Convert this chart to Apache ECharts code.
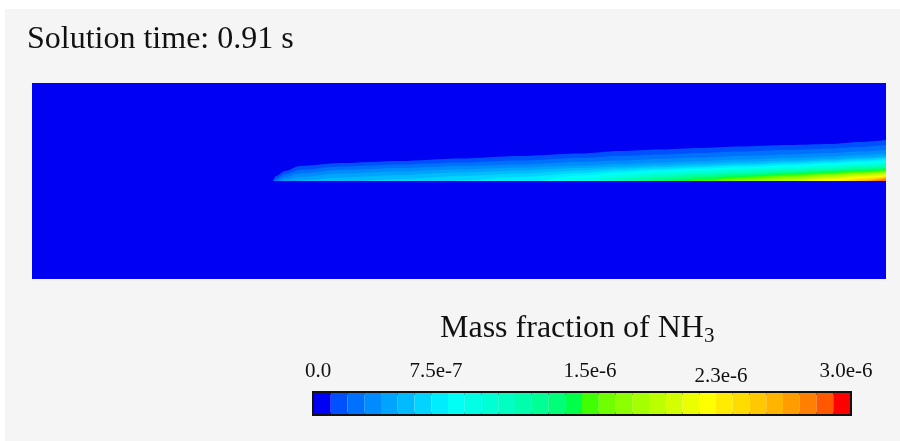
<!DOCTYPE html>
<html>
<head>
<meta charset="utf-8">
<title>Mass fraction of NH3</title>
<script src="https://cdn.jsdelivr.net/npm/echarts@6/dist/echarts.min.js"></script>
<style>
  html, body { margin: 0; padding: 0; background: #fff; }
  #chart { width: 900px; height: 441px; }
</style>
</head>
<body>
<div id="chart"></div>
<script>
// 32 contour bands, 0 .. 3.0e-6
var binColors = ['#0000f2', '#0050ff', '#0070ff', '#008cff', '#00a4ff', '#00bcff', '#00d4ff', '#00ecff',
                 '#00fff4', '#00ffe4', '#00ffd4', '#00ffc0', '#00ffac', '#00ff94', '#00ff78', '#00ff48',
                 '#40ff00', '#70ff00', '#8cff00', '#a4ff00', '#bcff00', '#d4ff00', '#ecff00', '#ffff00',
                 '#ffec00', '#ffdc00', '#ffc800', '#ffb400', '#ff9c00', '#ff8000', '#ff5800', '#ff0000'];

// colorbar ticks (units of 1e-7)
var tickValues = [0, 7.5, 15, 22.5, 30];
var tickLabels = ['0.0', '7.5e-7', '1.5e-6', '2.3e-6', '3.0e-6'];

// stations along the axis where the band edges were read
var stationX = [241, 244, 253, 268, 308, 368, 428, 488, 548, 588, 628, 668, 708, 758, 798, 828, 854];

// where each band (level 2 .. 32) first appears on the centre line
var levelStart = [241, 242, 246, 250, 264, 328, 423, 508, 536, 563, 575, 586, 600, 616, 633, 656,
                  680, 698, 720, 740, 763, 773, 784, 803, 813, 823, 830, 836, 841, 845, 848];

// height of each band edge above the centre line, aligned to the last stations
var levelHeights = [
    [0, 5, 10, 15, 18, 20, 22.5, 25, 27.5, 30, 31.5, 33, 34.5, 36, 37, 39, 41],
    [2, 7, 11, 14.5, 16.5, 18.5, 20.5, 23, 25, 26.5, 28, 29.5, 31, 32.5, 34, 36],
    [4, 7.5, 11, 13, 15, 16.5, 19, 20.5, 22, 23.5, 25, 26.5, 28, 29.5, 31],
    [1, 4, 7.5, 9.5, 11.5, 13.5, 15.5, 17, 18.5, 20, 21.5, 23, 24.5, 26, 27.5],
    [0.5, 3.5, 6, 8.5, 10.5, 13, 14.5, 16, 17.5, 19, 20.5, 22, 23.5, 25],
    [2, 5, 7.5, 10.5, 12.5, 14, 15.5, 17, 18.8, 20.5, 22, 23.5],
    [0.5, 4, 8, 10.5, 12.2, 13.8, 15.4, 17.2, 19, 20.5, 22],
    [5.5, 8.5, 10.5, 12.2, 13.8, 15.6, 17.5, 19, 20.5],
    [2, 6.5, 9, 10.7, 12.4, 14.2, 16, 17.5, 19],
    [4.5, 7.5, 9.3, 11, 12.8, 14.5, 16, 17.5],
    [2.5, 6, 8, 9.8, 11.7, 13.5, 15, 16.3],
    [0.8, 4.5, 6.8, 8.7, 10.6, 12.3, 13.8, 15],
    [3, 5.6, 7.6, 9.6, 11.3, 12.8, 14],
    [1.5, 4.3, 6.5, 8.6, 10.3, 11.8, 13],
    [2.8, 5.3, 7.6, 9.3, 10.8, 12],
    [1.2, 4, 6.4, 8.3, 9.8, 11],
    [2.6, 5.2, 7.3, 8.8, 10],
    [1.2, 4, 6.4, 8, 9.2],
    [2.8, 5.5, 7.2, 8.4],
    [1.4, 4.5, 6.4, 7.7],
    [3.5, 5.6, 7],
    [2.5, 4.8, 6.3],
    [1.2, 4, 5.6],
    [3, 5],
    [2, 4.4],
    [1, 3.8],
    [3.2],
    [2.7],
    [2.2],
    [1.7],
    [1.2]
];

var serif = 'Liberation Serif, Times New Roman, serif';
var chart = echarts.init(document.getElementById('chart'));

// one filled band per contour level, later levels painted on top
var plumeSeries = levelHeights.map(function (tail, i) {
    var off = stationX.length - tail.length;
    var pts = [[levelStart[i], 0]];
    tail.forEach(function (h, j) {
        var x = stationX[off + j];
        if (x > levelStart[i]) pts.push([x, h]);
    });
    return {
        type: 'line',
        xAxisIndex: 0,
        yAxisIndex: 0,
        data: pts,
        smooth: 0.3,
        smoothMonotone: 'x',
        symbol: 'none',
        silent: true,
        z: 3 + i,
        lineStyle: { width: 0, opacity: 0 },
        itemStyle: { color: binColors[i + 1] },
        areaStyle: { color: binColors[i + 1], opacity: 1 }
    };
});

var option = {
    animation: false,
    graphic: [{
        type: 'rect',
        z: -10,
        silent: true,
        shape: { x: 5, y: 9, width: 895, height: 432 },
        style: { fill: '#f5f5f5' }
    }],
    title: [
        {
            text: 'Solution time: 0.91 s',
            left: 27,
            top: 24,
            padding: 0,
            textStyle: { fontFamily: serif, fontSize: 32, fontWeight: 'normal', color: '#111' }
        },
        {
            text: 'Mass fraction of NH{sub|3}',
            left: 440,
            top: 311,
            padding: 0,
            textStyle: {
                fontFamily: serif, fontSize: 32, fontWeight: 'normal', color: '#111', lineHeight: 36,
                rich: {
                    sub: { fontFamily: serif, fontSize: 21, lineHeight: 16, verticalAlign: 'bottom', color: '#111' }
                }
            }
        }
    ],
    grid: [
        {
            left: 32, top: 83, width: 854, height: 196,
            show: true, backgroundColor: binColors[0], borderWidth: 0,
            outerBoundsMode: 'none'
        },
        {
            left: 314, top: 393, width: 536, height: 21,
            show: true, backgroundColor: 'transparent', borderColor: '#111', borderWidth: 4,
            outerBoundsMode: 'none'
        }
    ],
    xAxis: [
        { gridIndex: 0, type: 'value', min: 0, max: 854, show: false },
        { gridIndex: 1, type: 'category', data: binColors.map(function (c, i) { return i; }), show: false },
        {
            gridIndex: 1, type: 'value', position: 'top',
            min: tickValues[0], max: tickValues[tickValues.length - 1], interval: 7.5,
            axisLine: { show: false },
            axisTick: { show: false },
            splitLine: { show: false },
            axisLabel: {
                margin: 6,
                fontFamily: serif,
                fontSize: 21,
                color: '#111',
                formatter: function (v) {
                    var i = tickValues.indexOf(v);
                    return '{t' + i + '|' + tickLabels[i] + '}';
                },
                rich: {
                    t0: { padding: [0, 0, 5, 8] },
                    t1: { padding: [0, 24, 5, 0] },
                    t2: { padding: [0, 0, 5, 16] },
                    t3: { padding: [0, 0, 0, 10] },
                    t4: { padding: [0, 8, 5, 0] }
                }
            }
        }
    ],
    yAxis: [
        { gridIndex: 0, type: 'value', min: -98, max: 98, show: false },
        { gridIndex: 1, type: 'value', min: 0, max: 1, show: false }
    ],
    series: plumeSeries.concat([{
        type: 'bar',
        xAxisIndex: 1,
        yAxisIndex: 1,
        barWidth: '100%',
        silent: true,
        data: binColors.map(function (c) {
            return { value: 1, itemStyle: { color: c } };
        })
    }])
};
chart.setOption(option);
</script>
</body>
</html>
